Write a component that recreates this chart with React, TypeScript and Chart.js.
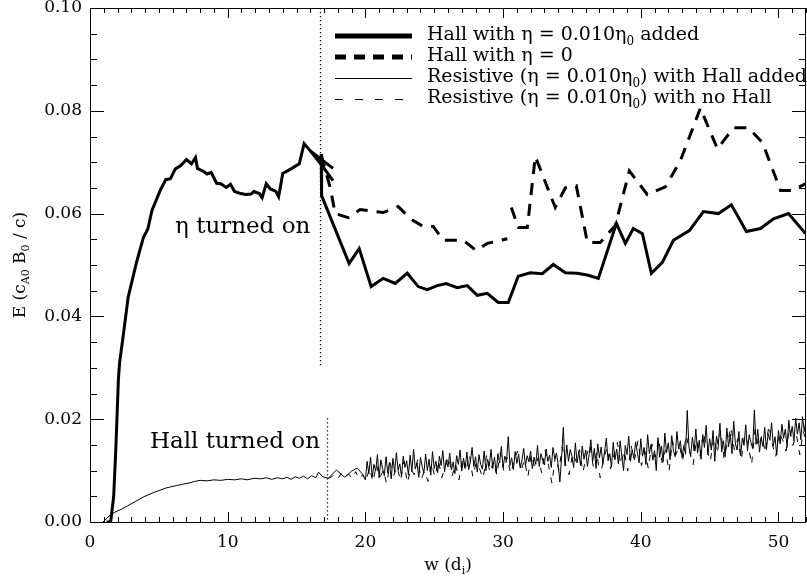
import React, { useEffect, useRef } from 'react';
import { Chart, registerables } from 'chart.js';

Chart.register(...registerables);

const FONT = '"DejaVu Serif", serif';

// ---------- axes ----------
const xTickValues = [0, 10, 20, 30, 40, 50];
const yTickValues = [0, 0.02, 0.04, 0.06, 0.08, 0.1];
const xMinorStep = 1;
const yMinorStep = 0.005;
const xRange = [0, 52];
const yRange = [0, 0.1];

// ---------- Hall with eta = 0.010 eta0 added (thick solid) ----------
const hallEarlyX = [1.2, 1.5, 1.72, 1.88, 2.06, 2.15, 2.45, 2.77, 3.36, 3.87, 4.2, 4.5, 5.1, 5.5, 5.84, 6.2, 6.57, 7.0, 7.37, 7.66, 7.8, 8.26, 8.5, 8.8, 9.2, 9.5, 9.9, 10.2, 10.5, 10.95, 11.3, 11.7, 11.9, 12.3, 12.5, 12.8, 13.1, 13.5, 13.7, 14.0, 14.6, 15.2, 15.55, 16.0, 16.75, 17.65];
const hallEarlyY = [0, 0, 0.005, 0.0145, 0.0276, 0.031, 0.037, 0.0437, 0.0503, 0.0553, 0.057, 0.0606, 0.0645, 0.0666, 0.0668, 0.0687, 0.0693, 0.0705, 0.0697, 0.0709, 0.0688, 0.0682, 0.0677, 0.068, 0.0659, 0.0658, 0.0651, 0.0657, 0.0643, 0.0639, 0.0637, 0.0638, 0.0643, 0.0639, 0.0631, 0.0658, 0.0648, 0.0643, 0.0633, 0.0678, 0.0687, 0.0697, 0.0736, 0.0722, 0.0697, 0.0664];
const hallOverlapX = [16.0, 17.65];
const hallOverlapY = [0.0722, 0.0688];
const hallEtaX = [16.79, 16.82, 18.82, 19.55, 20.42, 21.29, 22.17, 23.04, 23.84, 24.49, 25.22, 25.87, 26.67, 27.4, 28.13, 28.85, 29.65, 30.38, 31.1, 31.98, 32.85, 33.65, 34.52, 35.39, 36.19, 36.92, 38.23, 38.88, 39.46, 40.12, 40.77, 41.57, 42.37, 43.53, 44.55, 45.64, 46.58, 47.67, 48.69, 49.64, 50.73, 51.96];
const hallEtaY = [0.0716, 0.0635, 0.0503, 0.0532, 0.0458, 0.0474, 0.0464, 0.0484, 0.0458, 0.0452, 0.046, 0.0464, 0.0456, 0.046, 0.0441, 0.0445, 0.0427, 0.0427, 0.0478, 0.0485, 0.0483, 0.0501, 0.0485, 0.0484, 0.048, 0.0474, 0.0581, 0.0542, 0.0571, 0.0561, 0.0484, 0.0505, 0.0548, 0.0567, 0.0604, 0.06, 0.0617, 0.0565, 0.0571, 0.059, 0.06, 0.0561];

// ---------- Hall with eta = 0 (thick dashed) ----------
const hallNoEtaX = [16.79, 17.44, 17.81, 18.75, 19.62, 21.29, 22.38, 23.26, 24.2, 24.93, 25.65, 27.11, 28.05, 28.85, 30.31, 30.45, 30.6, 31.1, 31.76, 32.34, 33.79, 34.52, 35.32, 36.12, 37.06, 38.15, 39.17, 40.48, 41.79, 42.88, 44.33, 45.57, 46.73, 47.82, 48.84, 50.15, 51.02, 51.96];
const hallNoEtaY = [0.0714, 0.0651, 0.06, 0.0592, 0.0608, 0.0602, 0.0614, 0.059, 0.0575, 0.0575, 0.0548, 0.0548, 0.0528, 0.0542, 0.0551, null, 0.0612, 0.0573, 0.0573, 0.0711, 0.0612, 0.065, 0.0654, 0.0544, 0.0544, 0.0577, 0.0683, 0.0637, 0.0652, 0.0703, 0.0805, 0.0726, 0.0767, 0.0767, 0.0738, 0.0645, 0.0645, 0.0658];

// ---------- Resistive with Hall added (thin solid), values in units of 1e-4 ----------
const resHallEarlyX = [0.95, 1.3, 1.8, 2.3, 2.7, 3.3, 3.9, 4.5, 5.1, 5.5, 5.8, 6.3, 6.8, 7.2, 7.6, 8.0, 8.5, 9.0, 9.5, 10.0, 10.5, 11.0, 11.4, 11.9, 12.4, 12.8, 13.2, 13.6, 14.0, 14.3, 14.6, 14.9, 15.2, 15.5, 15.8, 16.1, 16.4, 16.6, 16.9, 17.3, 17.9, 18.5, 19.0, 19.4, 19.8];
const resHallEarlyY = [0, 10, 19, 25, 31, 40, 49, 56, 62, 66, 68, 71, 74, 76, 79, 81, 80, 82, 81, 83, 82, 84, 82, 85, 84, 86, 83, 86, 84, 87, 83, 88, 85, 89, 84, 90, 86, 97, 88, 85, 101, 87, 99, 105, 93];
// sampled every 0.125 d_i from 20.0 (one row per d_i)
const resHallNoiseStart = 20.0;
const resHallNoiseStep = 0.125;
const resHallNoiseY = [
  82, 118, 94, 126, 88, 112, 99, 131,
  86, 121, 104, 90, 127, 95, 116, 84,
  124, 97, 135, 101, 113, 89, 128, 106,
  119, 92, 130, 98, 141, 103, 115, 87,
  126, 108, 95, 132, 100, 122, 91, 137,
  104, 118, 96, 128, 110, 139, 98, 121,
  107, 134, 101, 117, 94, 129, 112, 140,
  99, 124, 106, 136, 102, 118, 145, 108,
  127, 97, 131, 112, 103, 138, 100, 122,
  109, 141, 104, 126, 96, 133, 115, 147,
  106, 128, 118, 166, 110, 125, 102, 137,
  114, 132, 105, 121, 143, 109, 129, 117,
  138, 104, 126, 112, 149, 108, 133, 120,
  111, 142, 118, 130, 106, 145, 123, 134,
  112, 78, 126, 184, 109, 150, 118, 141,
  128, 106, 154, 115, 137, 110, 148, 122,
  140, 108, 131, 160, 117, 143, 104, 152,
  125, 146, 112, 138, 163, 119, 133, 107,
  155, 121, 142, 113, 158, 127, 100, 149,
  131, 167, 118, 140, 124, 156, 135, 115,
  162, 128, 145, 112, 170, 133, 151, 120,
  139, 100, 164, 126, 148, 117, 173, 135,
  154, 121, 168, 138, 127, 176, 142, 158,
  125, 149, 132, 217, 146, 129, 165, 138,
  181, 134, 159, 122, 170, 145, 188, 131,
  162, 140, 178, 118, 167, 150, 192, 136,
  158, 127, 183, 146, 171, 133, 196, 152,
  140, 176, 129, 163, 149, 189, 138, 170,
  155, 143, 218, 151, 180, 136, 165, 147,
  184, 141, 172, 159, 193, 148, 166, 130,
  178, 152, 190, 163, 181, 145, 198, 167,
  186, 158, 202, 171, 193, 160, 205, 176,
  198,
];

// ---------- Resistive with no Hall (thin dashed), units of 1e-4, every 0.25 d_i from 17.3 ----------
const resNoHallStart = 17.3;
const resNoHallStep = 0.25;
const resNoHallY = [
  85,
  88, 95, 86, 97, 89, 93, 84, 98, 83, 92, 80,
  105, 78, 112, 86, 101, 74, 115, 90, 108, 80, 118, 76, 104, 92, 122, 83, 99, 79, 114, 88,
  120, 86, 108, 127, 90, 113, 82, 124, 98, 131, 88, 116, 103, 85, 129, 96, 118, 91, 135, 100,
  126, 94, 118, 138, 99, 121, 87, 132, 106, 125, 96, 140, 110, 75, 128, 101, 146, 112, 92, 134,
  118, 141, 97, 129, 150, 108, 136, 86, 124, 145, 103, 131, 155, 112, 139, 99, 148, 121, 158, 110,
  137, 104, 152, 126, 163, 115, 140, 98, 158, 131, 149, 120, 170, 136, 111, 160, 128, 174, 142, 118,
  165, 133, 178, 124, 155, 185, 140, 162, 121, 171, 150, 112, 180, 146, 168, 135, 188, 152, 127, 174,
  160, 138, 183, 149, 170, 131, 176, 154, 190,
];
const resUnit = 1e-4;

// ---------- annotations ----------
const etaOnX = 16.72;
const etaOnRange = [0.03, 0.1];
const hallOnX = 17.22;
const hallOnRange = [0, 0.0202];
const etaLabel = { text: 'η turned on', x: 16.0, y: 0.0574 };
const hallLabel = { text: 'Hall turned on', x: 16.7, y: 0.0156 };

type Part = { t: string; sub?: boolean };
const legendRows: { parts: Part[]; width: number; dash: number[] }[] = [
  { parts: [{ t: 'Hall with η = 0.010η' }, { t: '0', sub: true }, { t: ' added' }], width: 5, dash: [] },
  { parts: [{ t: 'Hall with η = 0' }], width: 5, dash: [11, 8] },
  { parts: [{ t: 'Resistive (η = 0.010η' }, { t: '0', sub: true }, { t: ') with Hall added' }], width: 1, dash: [] },
  { parts: [{ t: 'Resistive (η = 0.010η' }, { t: '0', sub: true }, { t: ') with no Hall' }], width: 1, dash: [8, 12] },
];
const xTitle: Part[] = [{ t: 'w (d' }, { t: 'i', sub: true }, { t: ')' }];
const yTitle: Part[] = [{ t: 'E (c' }, { t: 'A0', sub: true }, { t: ' B' }, { t: '0', sub: true }, { t: ' / c)' }];

const pts = (xs: number[], ys: (number | null)[], unit = 1) =>
  xs.map((x, i) => ({ x, y: ys[i] === null ? null : (ys[i] as number) * unit }));
const sampled = (start: number, step: number, ys: number[], unit = 1) =>
  ys.map((y, i) => ({ x: start + step * i, y: y * unit }));

function drawRich(ctx: CanvasRenderingContext2D, parts: Part[], x: number, y: number, size: number, align: 'left' | 'center') {
  const subSize = Math.round(size * 0.65);
  const widths = parts.map((p) => {
    ctx.font = `${p.sub ? subSize : size}px ${FONT}`;
    return ctx.measureText(p.t).width;
  });
  const total = widths.reduce((a, b) => a + b, 0);
  let cx = align === 'center' ? x - total / 2 : x;
  ctx.textAlign = 'left';
  ctx.textBaseline = 'alphabetic';
  parts.forEach((p, i) => {
    ctx.font = `${p.sub ? subSize : size}px ${FONT}`;
    ctx.fillText(p.t, cx, p.sub ? y + size * 0.25 : y);
    cx += widths[i];
  });
}

const decorPlugin = {
  id: 'decor',
  afterDatasetsDraw(chart: any) {
    const ctx: CanvasRenderingContext2D = chart.ctx;
    const xs = chart.scales.x;
    const ys = chart.scales.y;
    const { left, right, top, bottom } = chart.chartArea;
    ctx.save();
    ctx.strokeStyle = '#000';
    ctx.fillStyle = '#000';
    ctx.lineWidth = 1;
    ctx.setLineDash([]);
    // frame
    ctx.beginPath();
    ctx.rect(left + 0.5, top + 0.5, right - left - 1, bottom - top);
    ctx.stroke();
    // ticks
    ctx.beginPath();
    for (let v = xRange[0]; v <= xRange[1] + 1e-9; v += xMinorStep) {
      const p = Math.round(xs.getPixelForValue(v)) + 0.5;
      const major = xTickValues.some((t) => Math.abs(t - v) < 1e-6);
      const len = major ? 10 : 5;
      ctx.moveTo(p, bottom);
      ctx.lineTo(p, bottom - len);
      ctx.moveTo(p, top);
      ctx.lineTo(p, top + len);
    }
    const nY = Math.round((yRange[1] - yRange[0]) / yMinorStep);
    for (let k = 0; k <= nY; k++) {
      const v = yRange[0] + k * yMinorStep;
      const p = Math.round(ys.getPixelForValue(v)) + 0.5;
      const major = yTickValues.some((t) => Math.abs(t - v) < 1e-9);
      const len = major ? 14 : 7;
      ctx.moveTo(left, p);
      ctx.lineTo(left + len, p);
      ctx.moveTo(right, p);
      ctx.lineTo(right - len, p);
    }
    ctx.stroke();

    // dotted markers
    ctx.save();
    ctx.lineWidth = 1.3;
    ctx.setLineDash([1.3, 2.7]);
    ctx.beginPath();
    const ex = Math.round(xs.getPixelForValue(etaOnX)) + 0.5;
    ctx.moveTo(ex, ys.getPixelForValue(etaOnRange[1]));
    ctx.lineTo(ex, ys.getPixelForValue(etaOnRange[0]));
    const hx = Math.round(xs.getPixelForValue(hallOnX)) + 0.5;
    ctx.moveTo(hx, ys.getPixelForValue(hallOnRange[1]));
    ctx.lineTo(hx, ys.getPixelForValue(hallOnRange[0]));
    ctx.stroke();
    ctx.restore();

    // annotation labels
    ctx.font = `23px ${FONT}`;
    ctx.textAlign = 'right';
    ctx.textBaseline = 'middle';
    ctx.fillText(etaLabel.text, xs.getPixelForValue(etaLabel.x), ys.getPixelForValue(etaLabel.y));
    ctx.fillText(hallLabel.text, xs.getPixelForValue(hallLabel.x), ys.getPixelForValue(hallLabel.y));

    // legend
    const lx0 = 335;
    const lx1 = 412;
    const tx = 427;
    legendRows.forEach((row, i) => {
      const ly = 36 + i * 21;
      ctx.save();
      ctx.lineWidth = row.width;
      ctx.setLineDash(row.dash);
      ctx.beginPath();
      ctx.moveTo(lx0, ly + (row.width === 1 ? 0.5 : 0));
      ctx.lineTo(lx1, ly + (row.width === 1 ? 0.5 : 0));
      ctx.stroke();
      ctx.restore();
      drawRich(ctx, row.parts, tx, ly + 4, 19, 'left');
    });

    // axis titles
    drawRich(ctx, xTitle, (left + right) / 2, 570, 17, 'center');
    ctx.save();
    ctx.translate(25, (top + bottom) / 2);
    ctx.rotate(-Math.PI / 2);
    drawRich(ctx, yTitle, 0, 0, 17, 'center');
    ctx.restore();

    ctx.restore();
  },
};

export default function App() {
  const ref = useRef<HTMLCanvasElement | null>(null);
  useEffect(() => {
    if (!ref.current) return;
    const thick = 3;
    const datasets: any[] = [
      { data: pts(hallEarlyX, hallEarlyY), borderColor: '#000', borderWidth: thick },
      { data: pts(hallOverlapX, hallOverlapY), borderColor: '#000', borderWidth: thick },
      { data: pts(hallEtaX, hallEtaY), borderColor: '#000', borderWidth: thick },
      { data: pts(hallNoEtaX, hallNoEtaY), borderColor: '#000', borderWidth: thick, borderDash: [12, 9] },
      {
        data: [...pts(resHallEarlyX, resHallEarlyY, resUnit), ...sampled(resHallNoiseStart, resHallNoiseStep, resHallNoiseY, resUnit)],
        borderColor: '#000', borderWidth: 1, borderJoinStyle: 'round',
      },
      {
        data: sampled(resNoHallStart, resNoHallStep, resNoHallY, resUnit),
        borderColor: '#000', borderWidth: 1, borderDash: [6, 8], borderJoinStyle: 'round',
      },
    ].map((d) => ({ ...d, pointRadius: 0, tension: 0, fill: false, spanGaps: false }));

    const tickFont = { family: FONT, size: 17 };
    const chart = new Chart(ref.current, {
      type: 'line',
      data: { datasets },
      options: {
        animation: false,
        responsive: false,
        devicePixelRatio: 1,
        events: [],
        layout: { padding: { top: 8, right: 1, left: 0, bottom: 0 } },
        plugins: { legend: { display: false }, tooltip: { enabled: false }, title: { display: false } },
        scales: {
          x: {
            type: 'linear',
            min: xRange[0],
            max: xRange[1],
            afterFit: (s: any) => { s.height = 55; s.paddingLeft = 0; s.paddingRight = 0; },
            afterBuildTicks: (s: any) => { s.ticks = xTickValues.map((v) => ({ value: v })); },
            grid: { display: false, drawTicks: false },
            border: { display: false },
            ticks: { padding: 10, font: tickFont, color: '#000', maxRotation: 0, autoSkip: false, callback: (v: any) => String(v) },
          },
          y: {
            type: 'linear',
            min: yRange[0],
            max: yRange[1],
            afterFit: (s: any) => { s.width = 90; s.paddingTop = 0; s.paddingBottom = 0; },
            afterBuildTicks: (s: any) => { s.ticks = yTickValues.map((v) => ({ value: v })); },
            grid: { display: false, drawTicks: false },
            border: { display: false },
            ticks: { padding: 8, font: tickFont, color: '#000', autoSkip: false, callback: (v: any) => Number(v).toFixed(2) },
          },
        },
      } as any,
      plugins: [decorPlugin],
    });
    return () => chart.destroy();
  }, []);
  return (
    <div style={{ position: 'absolute', left: 0, top: 0, width: 807, height: 577, background: '#fff' }}>
      <canvas ref={ref} width={807} height={577} style={{ display: 'block' }} />
    </div>
  );
}
